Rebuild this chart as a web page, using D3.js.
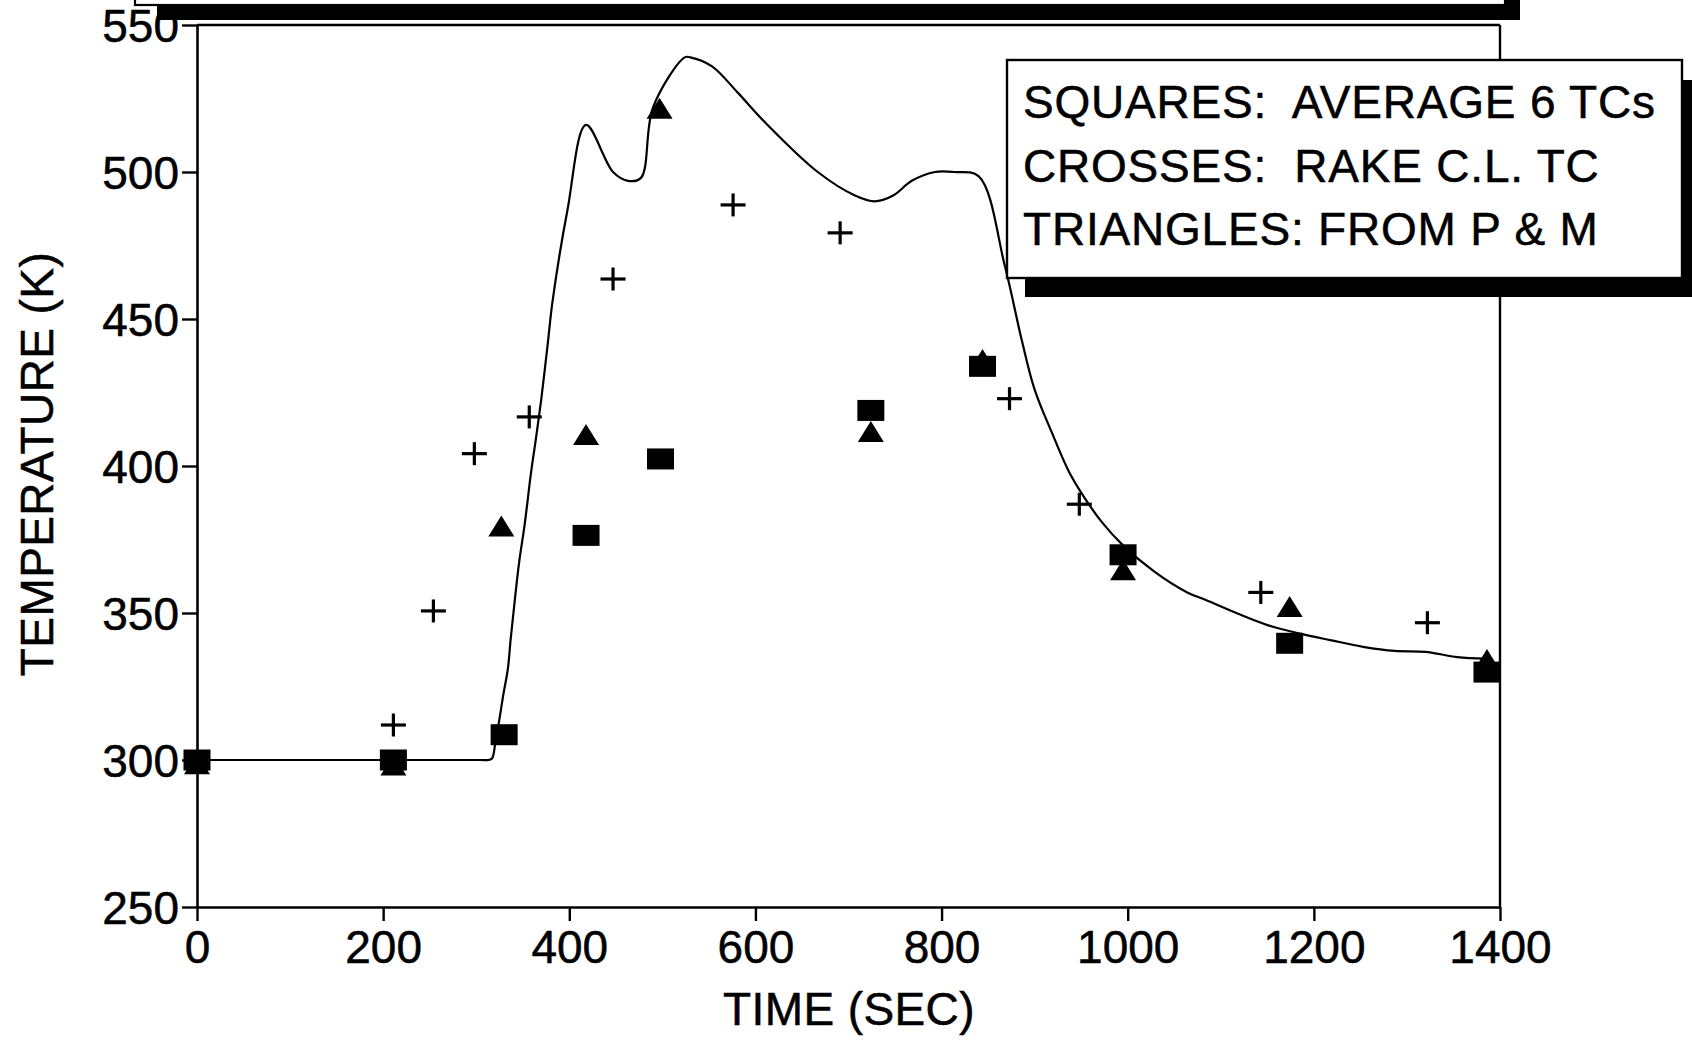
<!DOCTYPE html>
<html>
<head>
<meta charset="utf-8">
<script src="https://cdn.jsdelivr.net/npm/d3@7"></script>
<style>
  html, body { margin: 0; padding: 0; background: #fff; }
  svg { display: block; }
  text { font-family: "Liberation Sans", Arial, Helvetica, sans-serif; fill: #000; stroke: #000; stroke-width: 0.5px; }
</style>
</head>
<body>
<svg id="chart" width="1692" height="1040"></svg>
<script>
// ---- data ----
const squaresTime = [0, 211, 330, 418, 498, 724, 844, 995, 1174, 1386];
const squaresTemp = [300, 300, 308.6, 376.4, 402.4, 418.9, 433.9, 369.8, 339.7, 329.9];

const crossesTime = [211, 254, 298, 357, 447, 576, 691, 873, 948, 1143, 1322];
const crossesTemp = [311.9, 350.7, 404.2, 416.7, 463.6, 488.8, 479.3, 422.9, 387, 357, 346.7];

const trianglesTime = [0, 211, 327, 418, 497, 724, 844, 995, 1174, 1386];
const trianglesTemp = [298, 297.6, 378.9, 410, 521, 411, 435.5, 364, 351.5, 333.5];

const curveTime = [0, 100, 200, 280, 305, 313, 317, 321, 325, 329, 334, 337, 341, 346, 352, 359, 364, 370, 377, 382, 398, 418,
  447, 463, 477, 490, 524, 530, 553, 581, 610, 667, 707, 728, 748, 768, 793, 813, 840,
  868, 886, 900, 919, 937, 954, 972, 995, 1029, 1064, 1084, 1118, 1151, 1185, 1219, 1253, 1287, 1320, 1354, 1385];
const curveTemp = [300, 300, 300, 300, 300, 300, 300.5, 307, 314, 322, 331, 341, 353, 367, 380, 398, 409, 423, 442, 456, 487, 516,
  500, 497, 498, 522, 539, 539, 536, 527, 517, 500, 492, 490, 492, 497, 500, 500, 498.5,
  468, 443, 426, 411, 398, 389, 381, 373, 364, 357, 354.4, 349.8, 345.8, 343, 340.7, 338.5, 337.1, 336.8, 335, 334.5];

const xTicks = [0, 200, 400, 600, 800, 1000, 1200, 1400];
const yTicks = [250, 300, 350, 400, 450, 500, 550];

const xTitle = "TIME (SEC)";
const yTitle = "TEMPERATURE (K)";
const legendLines = ["SQUARES:  AVERAGE 6 TCs", "CROSSES:  RAKE C.L. TC", "TRIANGLES: FROM P & M"];

// ---- drawing ----
const svg = d3.select("#chart");
const x = d3.scaleLinear().domain([0, 1400]).range([197, 1500]);
const y = d3.scaleLinear().domain([250, 550]).range([907, 25]);

const FONT = 46;

// axes
const gx = svg.append("g").attr("transform", `translate(0,${y(250)})`)
  .call(d3.axisBottom(x).tickValues(xTicks).tickSize(14).tickSizeOuter(0).tickPadding(8).tickFormat(d3.format("d")));
const gy = svg.append("g").attr("transform", `translate(${x(0)},0)`)
  .call(d3.axisLeft(y).tickValues(yTicks).tickSize(15).tickSizeOuter(0).tickPadding(3).tickFormat(d3.format("d")));

[gx, gy].forEach(g => {
  g.selectAll("path.domain").attr("stroke", "#000").attr("stroke-width", 2.6);
  g.selectAll(".tick line").attr("stroke", "#000").attr("stroke-width", 2.4);
  g.selectAll(".tick text").style("font-size", FONT + "px").attr("fill", "#000")
    .style("font-family", "'Liberation Sans', Arial, sans-serif");
});
gx.selectAll(".tick text").attr("dy", "0.74em");
gy.selectAll(".tick text").attr("dy", "0.36em");

// top and right borders
svg.append("line").attr("x1", x(0)).attr("x2", x(1400)).attr("y1", y(550)).attr("y2", y(550))
  .attr("stroke", "#000").attr("stroke-width", 2.4);
svg.append("line").attr("x1", x(1400)).attr("x2", x(1400)).attr("y1", y(550)).attr("y2", y(250))
  .attr("stroke", "#000").attr("stroke-width", 2.4);

// axis titles
svg.append("text").attr("x", 849).attr("y", 1025).attr("text-anchor", "middle")
  .style("font-size", FONT + "px").style("letter-spacing", "0.4px").text(xTitle);
svg.append("text").attr("transform", "translate(53,464) rotate(-90)").attr("text-anchor", "middle")
  .style("font-size", FONT + "px").style("letter-spacing", "0.4px").text(yTitle);

// model curve
const curvePts = curveTime.map((t, i) => [t, curveTemp[i]]);
svg.append("path").datum(curvePts)
  .attr("fill", "none").attr("stroke", "#000").attr("stroke-width", 2.2).attr("stroke-linejoin", "round")
  .attr("d", d3.line().x(d => x(d[0])).y(d => y(d[1])).curve(d3.curveCatmullRom.alpha(0.5)));

// squares
const sqW = 27, sqH = 21;
svg.append("g").selectAll("rect").data(squaresTime.map((t, i) => [t, squaresTemp[i]])).join("rect")
  .attr("x", d => x(d[0]) - sqW / 2).attr("y", d => y(d[1]) - sqH / 2)
  .attr("width", sqW).attr("height", sqH).attr("fill", "#000");

// triangles
const trW = 26, trH = 21;
svg.append("g").selectAll("path").data(trianglesTime.map((t, i) => [t, trianglesTemp[i]])).join("path")
  .attr("d", d => {
    const cx = x(d[0]), cy = y(d[1]);
    return `M${cx},${cy - trH * 0.6}L${cx + trW / 2},${cy + trH * 0.4}L${cx - trW / 2},${cy + trH * 0.4}Z`;
  })
  .attr("fill", "#000");

// crosses
const crW = 25, crH = 23;
const cg = svg.append("g").selectAll("g").data(crossesTime.map((t, i) => [t, crossesTemp[i]])).join("g")
  .attr("transform", d => `translate(${x(d[0])},${y(d[1])})`);
cg.append("line").attr("x1", -crW / 2).attr("x2", crW / 2).attr("y1", 0).attr("y2", 0)
  .attr("stroke", "#000").attr("stroke-width", 3.2);
cg.append("line").attr("x1", 0).attr("x2", 0).attr("y1", -crH / 2).attr("y2", crH / 2)
  .attr("stroke", "#000").attr("stroke-width", 3.2);

// top (cut-off) title box with shadow
svg.append("rect").attr("x", 157).attr("y", -40).attr("width", 1363).attr("height", 60).attr("fill", "#000");
svg.append("rect").attr("x", 135).attr("y", -60).attr("width", 1370).attr("height", 65)
  .attr("fill", "#fff").attr("stroke", "#000").attr("stroke-width", 2.2);

// legend box with shadow
svg.append("rect").attr("x", 1025).attr("y", 80).attr("width", 680).attr("height", 217).attr("fill", "#000");
svg.append("rect").attr("x", 1007).attr("y", 60).attr("width", 675).attr("height", 218)
  .attr("fill", "#fff").attr("stroke", "#000").attr("stroke-width", 2.4);
svg.append("g").selectAll("text").data(legendLines).join("text")
  .attr("x", 1023).attr("y", (d, i) => 118 + i * 63.5)
  .style("font-size", FONT + "px").style("letter-spacing", "0.8px").attr("xml:space", "preserve")
  .text(d => d);
</script>
</body>
</html>
